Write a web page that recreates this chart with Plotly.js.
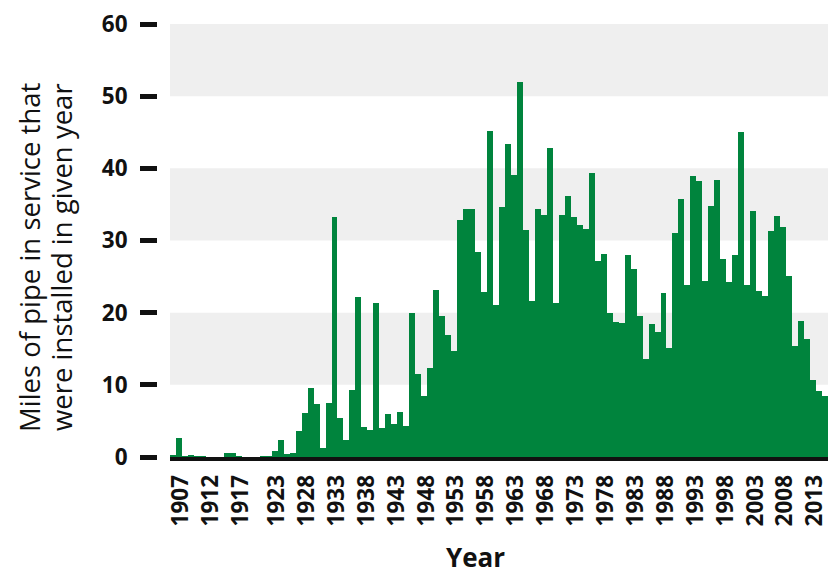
<!DOCTYPE html>
<html>
<head>
<meta charset="utf-8">
<script src="https://cdn.plot.ly/plotly-3.0.1.min.js"></script>
<style>html,body{margin:0;padding:0;background:#fff;}#chart{width:829px;height:577px;}</style>
</head>
<body>
<div id="chart"></div>
<script>
// Years 1905..2014 (one bar per year)
const startYear = 1905;
const miles = [
  0.3, 2.6, 0.1, 0.3, 0.1, 0.1, 0.0, 0.0, 0.0, 0.6,   // 1905-1914
  0.6, 0.1, 0.0, 0.0, 0.0, 0.1, 0.1, 0.8, 2.4, 0.4,   // 1915-1924
  0.5, 3.6, 6.1, 9.6, 7.3, 1.3, 7.5, 33.3, 5.4, 2.4,  // 1925-1934
  9.3, 22.2, 4.1, 3.8, 21.3, 4.0, 5.9, 4.6, 6.3, 4.3, // 1935-1944
  20.0, 11.5, 8.4, 12.4, 23.2, 19.5, 16.9, 14.7, 32.8, 34.4, // 1945-1954
  34.4, 28.4, 22.8, 45.2, 21.1, 34.7, 43.4, 39.1, 51.9, 31.4, // 1955-1964
  21.6, 34.3, 33.6, 42.8, 21.4, 33.6, 36.2, 33.2, 32.1, 31.6, // 1965-1974
  39.3, 27.2, 28.1, 19.9, 18.7, 18.5, 28.0, 26.0, 19.5, 13.6, // 1975-1984
  18.4, 17.3, 22.7, 15.1, 31.0, 35.8, 23.8, 39.0, 38.3, 24.4, // 1985-1994
  34.8, 38.4, 27.4, 24.2, 28.0, 45.1, 23.9, 34.1, 23.0, 22.3, // 1995-2004
  31.3, 33.4, 31.9, 25.1, 15.4, 18.9, 16.4, 10.7, 9.1, 8.4   // 2005-2014
];
const years = miles.map((_, i) => startYear + i);
const xTickYears = [1907,1912,1917,1923,1928,1933,1938,1943,1948,1953,1958,1963,1968,1973,1978,1983,1988,1993,1998,2003,2008,2013];
const yTickVals = [0,10,20,30,40,50,60];
const bandStarts = [10,30,50];
const yTitleLines = ['Miles of pipe in service that', 'were installed in given year'];
const xTitle = 'Year';

const W = 829, H = 577, ML = 140, MR = 1, MT = 24, MB = 120;
const PW = W - ML - MR, PH = H - MT - MB;
const px = p => (p - ML) / PW;
const py = p => (H - MB - p) / PH;

const shapes = bandStarts.map(b => ({
  type: 'rect', xref: 'x domain', yref: 'y', x0: 0, x1: 1, y0: b, y1: b + 10,
  fillcolor: '#efefef', line: {width: 0}, layer: 'below'
}));

const trace = {
  type: 'bar', x: years, y: miles,
  marker: {color: '#00843d', line: {width: 0}},
  hoverinfo: 'x+y'
};

const tickFont = {family: 'Open Sans, sans-serif', size: 22.5, color: '#111', weight: 700};
const titleFont = {family: 'Open Sans, sans-serif', size: 27.5, color: '#111'};

const layout = {
  width: W, height: H,
  margin: {l: ML, r: MR, t: MT, b: MB},
  paper_bgcolor: '#fff', plot_bgcolor: 'rgba(0,0,0,0)',
  showlegend: false,
  bargap: 0,
  shapes: shapes,
  xaxis: {
    domain: [px(170), 1],
    range: [startYear - 0.5, startYear + miles.length - 0.5],
    tickmode: 'array', tickvals: xTickYears, ticktext: xTickYears.map(String),
    tickangle: -90, ticks: '', tickfont: tickFont,
    ticklabeloverflow: 'allow', ticklabelshift: -4,
    showgrid: false, zeroline: false,
    showline: true, linecolor: '#111', linewidth: 4,
    ticklabelstandoff: 5
  },
  yaxis: {
    anchor: 'free', position: px(157),
    range: [0, 60],
    tickmode: 'array', tickvals: yTickVals, ticktext: yTickVals.map(String),
    ticks: 'outside', ticklen: 17, tickwidth: 5, tickcolor: '#111',
    tickfont: tickFont,
    showgrid: false, zeroline: false, showline: false,
    ticklabelstandoff: 8
  },
  annotations: [
    {
      text: yTitleLines[0],
      textangle: -90, xref: 'paper', yref: 'paper',
      x: px(29), y: py(257), xanchor: 'center', yanchor: 'middle',
      showarrow: false, font: titleFont
    },
    {
      text: yTitleLines[1],
      textangle: -90, xref: 'paper', yref: 'paper',
      x: px(61), y: py(257), xanchor: 'center', yanchor: 'middle',
      showarrow: false, font: titleFont
    },
    {
      text: xTitle, xref: 'paper', yref: 'paper',
      x: px(475), y: py(557), xanchor: 'center', yanchor: 'middle',
      showarrow: false,
      font: {family: 'Open Sans, sans-serif', size: 26, color: '#111', weight: 700}
    }
  ]
};

Plotly.newPlot('chart', [trace], layout, {displayModeBar: false, staticPlot: true});
</script>
</body>
</html>
